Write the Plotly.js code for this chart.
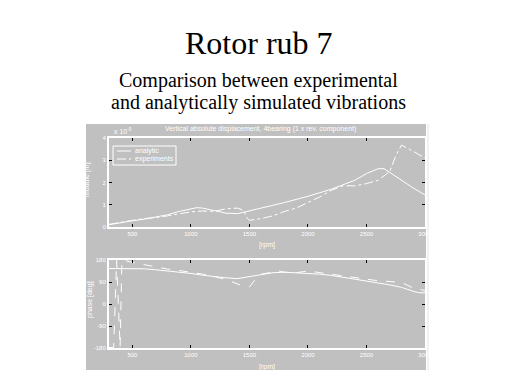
<!DOCTYPE html>
<html>
<head>
<meta charset="utf-8">
<script src="https://cdn.plot.ly/plotly-3.0.1.min.js"></script>
<style>html,body{margin:0;padding:0;background:#fff;}#chart{width:519px;height:389px;}</style>
</head>
<body>
<div id="chart"></div>
<script>
// Module (x 10^-5 m) vs speed [rpm]
var rpmModAnalytic = [300,400,500,600,700,800,900,1000,1050,1100,1200,1300,1400,1500,1600,1800,2000,2200,2400,2500,2600,2650,2700,2800,2900,3000];
var modAnalytic    = [0.10,0.20,0.28,0.35,0.45,0.55,0.70,0.82,0.87,0.85,0.72,0.62,0.60,0.72,0.85,1.10,1.38,1.70,2.10,2.40,2.62,2.62,2.45,2.10,1.75,1.44];
var rpmModExp      = [300,400,500,600,700,800,900,1000,1100,1200,1300,1400,1450,1480,1500,1600,1700,1800,1900,2000,2100,2200,2300,2400,2500,2600,2700,2750,2800,2900,3000];
var modExp         = [0.12,0.22,0.30,0.38,0.42,0.50,0.58,0.68,0.72,0.70,0.82,0.85,0.75,0.40,0.30,0.38,0.50,0.70,0.85,1.10,1.35,1.65,1.85,1.85,1.95,2.10,2.50,3.20,3.68,3.40,3.10];

// Phase [deg] vs speed [rpm]
var rpmPhAnalytic = [300,600,700,800,900,1000,1100,1200,1300,1400,1500,1600,1700,1800,1900,2000,2100,2200,2300,2400,2500,2600,2700,2800,2900,2950,3000];
var phAnalytic    = [145,144,140,136,130,125,118,112,107,104,112,122,128,130,128,125,122,117,110,102,95,86,78,68,52,46,46];
var rpmPhExp      = [300,340,365,395,410,450,500,600,700,800,900,1000,1100,1200,1300,1400,1450,1500,1550,1600,1700,1750,1800,1900,2000,2100,2200,2300,2400,2500,2600,2700,2800,2900,3000];
var phExp         = [-178,-178,178,-178,178,176,170,160,150,143,137,130,122,112,100,82,72,70,100,122,132,135,130,128,135,130,122,115,108,100,95,92,88,65,55];

var xTicks = [500,1000,1500,2000,2500,3000];
var yTicksMod = [0,1,2,3,4];
var yTicksPh = [-180,-90,0,90,180];
var seriesNames = ['analytic','experiments'];

var GRAY = '#c0c0c0';
var tickFont = {family:'Liberation Sans, Arial, sans-serif', size:6, color:'#ffffff'};
var small = {family:'Liberation Sans, Arial, sans-serif', size:7, color:'#ffffff'};

function px2x(px){ return (px-109)/316; }
function py2y(py){ return (348-py)/210; }

var traces = [
  {x: rpmModAnalytic, y: modAnalytic, name:seriesNames[0], type:'scatter', mode:'lines',
   line:{color:'#ffffff', width:1, dash:'solid'}, xaxis:'x', yaxis:'y'},
  {x: rpmModExp, y: modExp, name:seriesNames[1], type:'scatter', mode:'lines',
   line:{color:'#ffffff', width:1, dash:'dashdot'}, xaxis:'x', yaxis:'y'},
  {x: rpmPhAnalytic, y: phAnalytic, name:seriesNames[0], type:'scatter', mode:'lines',
   line:{color:'#ffffff', width:1, dash:'solid'}, xaxis:'x2', yaxis:'y2'},
  {x: rpmPhExp, y: phExp, name:seriesNames[1], type:'scatter', mode:'lines',
   line:{color:'#ffffff', width:1, dash:'dash'}, xaxis:'x2', yaxis:'y2'}
];

function xax(anchor){
  return {range:[300,3000], tickvals:xTicks, ticktext:xTicks.map(String), anchor:anchor,
    showgrid:false, zeroline:false, showline:true, linecolor:'#ffffff', linewidth:2, mirror:'ticks',
    ticks:'inside', ticklen:3, tickcolor:'#000000', tickfont:tickFont, fixedrange:true};
}
function yax(anchor, dom, rng, tv){
  return {domain:dom, range:rng, tickvals:tv, ticktext:tv.map(String), anchor:anchor,
    showgrid:false, zeroline:false, showline:true, linecolor:'#ffffff', linewidth:2, mirror:'ticks',
    ticks:'inside', ticklen:3, tickcolor:'#000000', tickfont:tickFont, fixedrange:true};
}

var serif = 'Liberation Serif, Times New Roman, serif';
var layout = {
  width:519, height:389,
  margin:{l:109, r:94, t:138, b:41, pad:0},
  paper_bgcolor:'#ffffff', plot_bgcolor:GRAY,
  showlegend:false,
  xaxis: xax('y'),
  yaxis: yax('x', [py2y(227), 1], [0,4], yTicksMod),
  xaxis2: xax('y2'),
  yaxis2: yax('x2', [0, py2y(260)], [-180,180], yTicksPh),
  shapes:[
    {type:'rect', xref:'paper', yref:'paper', x0:px2x(86), x1:px2x(426), y0:py2y(370), y1:py2y(124),
     fillcolor:GRAY, line:{width:0}, layer:'below'},
    {type:'line', xref:'paper', yref:'paper', x0:px2x(428), x1:px2x(428), y0:py2y(370), y1:py2y(124),
     line:{color:'#e4e4e4', width:1}, layer:'below'},
    // legend box and samples
    {type:'rect', xref:'paper', yref:'paper', x0:px2x(113), x1:px2x(176), y0:py2y(165), y1:py2y(146),
     line:{color:'#ffffff', width:1}, fillcolor:'rgba(0,0,0,0)'},
    {type:'line', xref:'paper', yref:'paper', x0:px2x(117), x1:px2x(131), y0:py2y(151), y1:py2y(151),
     line:{color:'#ffffff', width:1, dash:'solid'}},
    {type:'line', xref:'paper', yref:'paper', x0:px2x(117), x1:px2x(131), y0:py2y(159), y1:py2y(159),
     line:{color:'#ffffff', width:1, dash:'dashdot'}}
  ],
  annotations:[
    {text:'Rotor rub 7', xref:'paper', yref:'paper', x:px2x(259), y:py2y(43), xanchor:'center', yanchor:'middle',
     showarrow:false, font:{family:serif, size:32, color:'#000000'}},
    {text:'Comparison between experimental', xref:'paper', yref:'paper', x:px2x(258), y:py2y(80), xanchor:'center', yanchor:'middle',
     showarrow:false, font:{family:serif, size:20, color:'#000000'}},
    {text:'and analytically simulated vibrations', xref:'paper', yref:'paper', x:px2x(258), y:py2y(103), xanchor:'center', yanchor:'middle',
     showarrow:false, font:{family:serif, size:20, color:'#000000'}},
    {text:'Vertical absolute displacement, 4bearing (1 x rev. component)', xref:'paper', yref:'paper', x:px2x(260), y:py2y(129),
     xanchor:'center', yanchor:'middle', showarrow:false, font:small},
    {text:'x 10<sup>-5</sup>', xref:'paper', yref:'paper', x:px2x(112), y:py2y(131), xanchor:'left', yanchor:'middle',
     showarrow:false, font:small},
    {text:seriesNames[0], xref:'paper', yref:'paper', x:px2x(133), y:py2y(151), xanchor:'left', yanchor:'middle',
     showarrow:false, font:small},
    {text:seriesNames[1], xref:'paper', yref:'paper', x:px2x(133), y:py2y(159), xanchor:'left', yanchor:'middle',
     showarrow:false, font:small},
    {text:'module [m]', xref:'paper', yref:'paper', x:px2x(87), y:py2y(180), xanchor:'center', yanchor:'middle', textangle:-90,
     showarrow:false, font:small},
    {text:'phase [deg]', xref:'paper', yref:'paper', x:px2x(90), y:py2y(300), xanchor:'center', yanchor:'middle', textangle:-90,
     showarrow:false, font:small},
    {text:'[rpm]', xref:'paper', yref:'paper', x:px2x(267), y:py2y(245), xanchor:'center', yanchor:'middle',
     showarrow:false, font:small},
    {text:'[rpm]', xref:'paper', yref:'paper', x:px2x(267), y:py2y(367), xanchor:'center', yanchor:'middle',
     showarrow:false, font:small}
  ]
};

Plotly.newPlot('chart', traces, layout, {staticPlot:true, displayModeBar:false});
</script>
</body>
</html>
